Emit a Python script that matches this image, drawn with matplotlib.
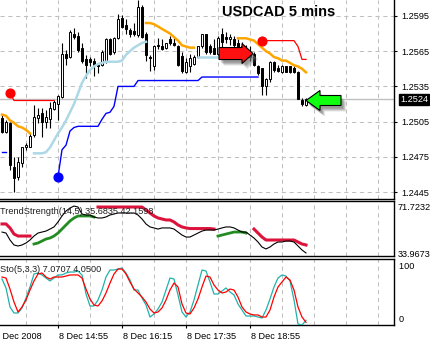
import numpy as np
import matplotlib.pyplot as plt
import matplotlib.transforms as mtransforms
from matplotlib.patches import Polygon

plt.rcParams['font.family'] = ['Liberation Sans', 'DejaVu Sans']

# USDCAD M5 candles, bar 0 = 8 Dec 13:45
opens = [1.2508, 1.2496, 1.2504, 1.2466, 1.2458, 1.2470, 1.2483, 1.2483, 1.2494, 1.2508,
         1.2512, 1.2505, 1.2507, 1.2516, 1.2520, 1.2526, 1.2563, 1.2560, 1.2580, 1.2578,
         1.2568, 1.2558, 1.2558, 1.2557, 1.2553, 1.2553, 1.2556, 1.2575, 1.2564, 1.2576,
         1.2593, 1.2587, 1.2583, 1.2582, 1.2579, 1.2603, 1.2580, 1.2560, 1.2552, 1.2570,
         1.2569, 1.2568, 1.2575, 1.2572, 1.2569, 1.2561, 1.2547, 1.2552, 1.2554, 1.2560,
         1.2569, 1.2580, 1.2569, 1.2568, 1.2563, 1.2580, 1.2577, 1.2575, 1.2575, 1.2572,
         1.2569, 1.2568, 1.2564, 1.2563, 1.2552, 1.2551, 1.2535, 1.2541, 1.2556, 1.2551,
         1.2547, 1.2552, 1.2552, 1.2551, 1.2547, 1.2523, 1.2519]
highs = [1.2511, 1.2506, 1.2505, 1.2475, 1.2475, 1.2483, 1.2487, 1.2495, 1.2519, 1.2517,
         1.2517, 1.2515, 1.2522, 1.2523, 1.2528, 1.2572, 1.2566, 1.2583, 1.2585, 1.2581,
         1.2572, 1.2562, 1.2560, 1.2559, 1.2555, 1.2566, 1.2576, 1.2576, 1.2577, 1.2597,
         1.2596, 1.2592, 1.2585, 1.2589, 1.2609, 1.2604, 1.2581, 1.2562, 1.2570, 1.2576,
         1.2575, 1.2572, 1.2578, 1.2576, 1.2570, 1.2564, 1.2559, 1.2563, 1.2562, 1.2569,
         1.2580, 1.2580, 1.2571, 1.2575, 1.2578, 1.2585, 1.2581, 1.2580, 1.2578, 1.2575,
         1.2573, 1.2570, 1.2569, 1.2564, 1.2553, 1.2551, 1.2542, 1.2557, 1.2557, 1.2553,
         1.2553, 1.2552, 1.2552, 1.2552, 1.2548, 1.2525, 1.2525]
lows = [1.2495, 1.2495, 1.2464, 1.2445, 1.2455, 1.2466, 1.2481, 1.2483, 1.2492, 1.2504,
        1.2492, 1.2500, 1.2500, 1.2515, 1.2506, 1.2525, 1.2553, 1.2559, 1.2575, 1.2564,
        1.2555, 1.2542, 1.2552, 1.2544, 1.2546, 1.2552, 1.2555, 1.2562, 1.2563, 1.2575,
        1.2585, 1.2580, 1.2577, 1.2578, 1.2577, 1.2576, 1.2557, 1.2548, 1.2549, 1.2567,
        1.2566, 1.2567, 1.2570, 1.2569, 1.2552, 1.2546, 1.2546, 1.2547, 1.2553, 1.2559,
        1.2568, 1.2563, 1.2563, 1.2563, 1.2562, 1.2568, 1.2572, 1.2570, 1.2568, 1.2566,
        1.2563, 1.2561, 1.2557, 1.2552, 1.2545, 1.2528, 1.2528, 1.2539, 1.2547, 1.2547,
        1.2546, 1.2547, 1.2546, 1.2546, 1.2524, 1.2518, 1.2518]
closes = [1.2496, 1.2505, 1.2468, 1.2457, 1.2471, 1.2483, 1.2485, 1.2493, 1.2509, 1.2511,
          1.2505, 1.2509, 1.2517, 1.2522, 1.2527, 1.2563, 1.2559, 1.2581, 1.2577, 1.2566,
          1.2557, 1.2553, 1.2556, 1.2553, 1.2552, 1.2564, 1.2575, 1.2563, 1.2576, 1.2592,
          1.2586, 1.2584, 1.2580, 1.2580, 1.2603, 1.2577, 1.2562, 1.2559, 1.2569, 1.2569,
          1.2567, 1.2572, 1.2572, 1.2570, 1.2553, 1.2548, 1.2556, 1.2559, 1.2560, 1.2569,
          1.2580, 1.2564, 1.2564, 1.2563, 1.2576, 1.2573, 1.2575, 1.2577, 1.2570, 1.2568,
          1.2566, 1.2563, 1.2560, 1.2553, 1.2546, 1.2535, 1.2541, 1.2556, 1.2549, 1.2548,
          1.2552, 1.2547, 1.2547, 1.2547, 1.2524, 1.2520, 1.2524]

# overlay lines on the price chart (start bar, values)
orange_a = (0, [1.2511, 1.2510, 1.2506, 1.2504, 1.2501, 1.2500, 1.2498, 1.2495])
orange_b = (36, [1.2589, 1.2589, 1.2588, 1.2586, 1.2584, 1.2582, 1.2580, 1.2577, 1.2574,
                 1.2570, 1.2569, 1.2568, 1.2568])
orange_c = (59, [1.2576, 1.2576, 1.2576, 1.2575, 1.2574, 1.2571, 1.2568, 1.2565, 1.2563,
                 1.2560, 1.2559, 1.2557, 1.2557, 1.2555, 1.2553, 1.2552, 1.2550, 1.2547])
lblue_a = (8, [1.2478, 1.2478, 1.2478, 1.2479, 1.2483, 1.2489, 1.2495, 1.2500, 1.2506,
               1.2513, 1.2520, 1.2529, 1.2538, 1.2544, 1.2549, 1.2552, 1.2554, 1.2555,
               1.2556, 1.2556, 1.2556, 1.2556, 1.2557, 1.2562, 1.2565, 1.2568, 1.2570,
               1.2572, 1.2573])
lblue_b = (49, [1.2560] * 6)
blue_a = (0, [1.2479, 1.2479])
blue_b = (14, [1.2458, 1.2481, 1.2485, 1.2497, 1.2500] + [1.2501] * 6
              + [1.2507, 1.2512, 1.2513, 1.2518] + [1.2535] * 5 + [1.2540] * 16 + [1.2543] * 15)
red_a = (2, [1.2529] + [1.2523] * 11)
red_b = (65, [1.2574] * 9 + [1.2569, 1.2558, 1.2558])
red_dots = ([2, 65], [1.2529, 1.2574])
blue_dots = ([14], [1.2458])
sell_arrow = (62.75, 1.2563)
buy_arrow = (76, 1.2523)

# TrendStrength(14,5)
ts_main = [50.8, 50.0, 44.4, 40.4, 39.6, 40.4, 42.0, 44.4, 47.6, 50.0,
           50.8, 51.6, 53.2, 54.9, 58.9, 63.7, 67.7, 70.1, 71.7, 70.9,
           65.3, 64.5, 64.5, 62.9, 62.1, 62.1, 62.9, 64.5, 65.3, 66.1,
           66.1, 66.1, 66.1, 66.1, 64.5, 61.3, 57.3, 54.9, 54.1, 53.2,
           54.1, 54.1, 54.1, 53.2, 50.8, 48.4, 46.8, 46.8, 48.4, 50.0,
           51.6, 52.4, 52.4, 52.4, 53.2, 54.1, 54.9, 54.9, 54.1, 52.4,
           50.8, 50.8, 48.4, 46.0, 42.8, 38.8, 37.2, 38.8, 41.2, 42.8,
           42.8, 43.6, 43.6, 42.8, 39.6, 36.4, 34.0]
ts_red_a = (0, [57.3, 57.3, 54.1, 49.2, 47.6, 47.6, 47.6, 47.6])
ts_red_b = (24, [70.9] * 12 + [68.5, 66.1, 63.7, 62.1, 61.3, 60.5, 60.5, 58.9, 56.5, 54.9, 54.1]
                + [53.6] * 6 + [53.2])
ts_red_c = (63, [53.2, 50.0, 46.8] + [44.4] * 8 + [42.8, 41.2, 40.4])
ts_green_a = (8, [41.2, 42.0, 43.6, 45.2, 46.0, 47.6, 50.0, 53.2, 56.5, 59.7, 62.1,
                  63.7, 63.7, 63.7, 63.7, 62.9])
ts_green_b = (54, [47.6, 48.4, 49.2, 50.0, 50.8, 50.8, 50.8, 50.0])
ts_last = (35.6835, 42.1598)

# Stochastic(5,3,3)
sto_main = [69.7, 56.1, 27.3, 18.2, 18.2, 25.8, 40.9, 57.6, 77.3, 78.8,
            75.8, 71.2, 66.7, 71.2, 75.8, 75.8, 78.8, 80.3, 80.3, 81.8,
            75.8, 47.0, 28.8, 28.8, 37.9, 53.0, 72.7, 83.3, 83.3, 84.8,
            86.4, 78.8, 68.2, 53.0, 53.0, 40.9, 30.3, 12.1, 16.7, 24.2,
            34.8, 53.0, 71.2, 69.7, 45.5, 19.7, 12.1, 19.7, 37.9, 60.6,
            83.3, 81.8, 65.2, 47.0, 47.0, 51.5, 56.1, 50.0, 45.5, 31.8,
            22.7, 13.6, 13.6, 13.6, 12.1, 10.6, 22.7, 39.4, 57.6, 71.2,
            75.8, 74.2, 66.7, 37.9, 1.5, 0.0, 7.0707]
sto_signal = [72.7, 71.2, 54.5, 34.8, 19.7, 27.3, 37.9, 53.0, 66.7, 77.3,
              78.8, 72.7, 69.7, 72.7, 72.7, 72.7, 74.2, 75.8, 75.8, 75.8,
              71.2, 54.5, 39.4, 30.3, 28.8, 36.4, 48.5, 63.6, 77.3, 84.8,
              84.8, 77.3, 65.2, 54.5, 48.5, 42.4, 34.8, 24.2, 18.2, 19.7,
              25.8, 37.9, 53.0, 63.6, 57.6, 31.8, 18.2, 16.7, 25.8, 39.4,
              57.6, 74.2, 72.7, 60.6, 53.0, 48.5, 50.0, 54.5, 53.0, 42.4,
              27.3, 19.7, 16.7, 15.2, 15.2, 12.1, 12.1, 22.7, 42.4, 57.6,
              65.2, 72.7, 68.2, 53.0, 27.3, 12.1, 4.05]

price_ticks = [1.2595, 1.2565, 1.2535, 1.2505, 1.2475, 1.2445]
time_ticks = [-2, 14, 30, 46, 62]
time_labels = ['8 Dec 2008', '8 Dec 14:55', '8 Dec 16:15', '8 Dec 17:35', '8 Dec 18:55']
ts_labels = [71.7232, 33.9673]

GRID = '#c0c0c0'
FS = 6.6


def seg(s):
    start, vals = s
    return np.arange(start, start + len(vals)), np.array(vals, dtype=float)


fig = plt.figure(figsize=(4.31, 3.44), dpi=100)
W = 394 / 431
ax1 = fig.add_axes([0, 145 / 344, W, 199 / 344])
ax2 = fig.add_axes([0, 88 / 344, W, 55 / 344])
ax3 = fig.add_axes([0, 19 / 344, W, 66 / 344])

for ax in (ax1, ax2, ax3):
    ax.set_xlim(-0.5, 98)
    ax.spines['left'].set_visible(False)
    for s in ('top', 'bottom', 'right'):
        ax.spines[s].set_linewidth(1.0)
        ax.spines[s].set_color('black')
    for g in range(6, 98, 8):
        ax.axvline(g, color=GRID, lw=0.75, ls=(0, (4, 3.5)), zorder=0)
    ax.set_xticks([])
ax1.spines['top'].set_visible(False)

# ---- price chart
ax1.set_ylim(1.24391, 1.26086)
for p in price_ticks:
    ax1.axhline(p, color=GRID, lw=0.75, ls=(0, (4, 3.5)), zorder=0)
ax1.axhline(closes[-1], color='#c0c0c0', lw=1.0, zorder=1)

idx = np.arange(len(opens))
o = np.array(opens); h = np.array(highs); l = np.array(lows); c = np.array(closes)
ax1.vlines(idx, l, h, color='black', lw=0.8, zorder=2)
bull = c >= o
bottoms = np.minimum(o, c)
heights = np.maximum(np.abs(c - o), 0.000015)
ax1.bar(idx, heights, bottom=bottoms, width=0.62,
        color=np.where(bull, 'white', 'black'), edgecolor='black', lw=0.7, zorder=2)

for s in (orange_a, orange_b, orange_c):
    ax1.plot(*seg(s), color='#ffa500', lw=1.8, zorder=3)
for s in (lblue_a, lblue_b):
    ax1.plot(*seg(s), color='#add8e6', lw=1.8, zorder=3)
for s in (blue_a, blue_b):
    ax1.plot(*seg(s), color='#0000ff', lw=1.0, zorder=3)
for s in (red_a, red_b):
    ax1.plot(*seg(s), color='#ff0000', lw=0.9, zorder=3)
ax1.plot(*red_dots, 'o', ms=6.3, color='#ff0000', zorder=4)
ax1.plot(*blue_dots, 'o', ms=6.3, color='#0000ff', zorder=4)


def arrow(ax, anchor, verts, face):
    base = mtransforms.ScaledTranslation(anchor[0], anchor[1], ax.transData)
    for dx, dy, a in ((5, 6, 0.18), (4, 5, 0.25), (3, 4, 0.3), (2, 3, 0.3)):
        tr = mtransforms.Affine2D().scale(1, -1).translate(dx, -dy) + base
        ax.add_patch(Polygon(verts, closed=True, transform=tr, fc='#707070',
                             ec='none', alpha=a, zorder=5, clip_on=False))
    tr = mtransforms.Affine2D().scale(1, -1) + base
    ax.add_patch(Polygon(verts, closed=True, transform=tr, fc=face, ec='black',
                         lw=0.8, zorder=6, clip_on=False))


arrow(ax1, sell_arrow, [(0, 0), (-11, -10), (-11, -6), (-34, -6), (-34, 6), (-11, 6), (-11, 10)],
      '#ff1010')
arrow(ax1, buy_arrow, [(0, 0), (14, -10), (14, -5), (35, -5), (35, 5), (14, 5), (14, 10)],
      '#10ff10')

ax1.text(222 / 394, 1 - 16 / 199, 'USDCAD 5 mins', transform=ax1.transAxes,
         fontsize=10.5, fontweight='bold', ha='left', va='baseline', color='black')

ax1.yaxis.tick_right()
ax1.set_yticks(price_ticks)
ax1.set_yticklabels(['%.4f' % p for p in price_ticks])
ax1.tick_params(axis='y', length=2.5, width=0.8, pad=2.5, labelsize=FS, colors='black')
ax1.annotate('%.4f' % closes[-1], xy=(1, closes[-1]),
             xycoords=('axes fraction', 'data'), xytext=(4.6, 0), textcoords='offset points',
             ha='left', va='center', fontsize=FS, color='white',
             bbox=dict(boxstyle='square,pad=0.12', fc='black', ec='black'))

# ---- TrendStrength panel
ax2.set_ylim(31.56, 75.74)
ax2.plot(idx, ts_main, color='black', lw=0.8, zorder=3)
for s in (ts_red_a, ts_red_b, ts_red_c):
    ax2.plot(*seg(s), color='#dc143c', lw=2.2, zorder=2)
for s in (ts_green_a, ts_green_b):
    ax2.plot(*seg(s), color='#228b22', lw=2.0, zorder=2)
ax2.yaxis.tick_right()
ax2.set_yticks(ts_labels)
ax2.set_yticklabels(['%.4f' % v for v in ts_labels])
ax2.tick_params(axis='y', length=0, pad=2.5, labelsize=FS, colors='black')
ax2.text(0.0, 0.8, 'TrendStrength(14,5) %.4f %.4f' % ts_last,
         transform=ax2.transAxes, fontsize=FS, ha='left', va='center', color='#202020')

# ---- Stochastic panel
ax3.set_ylim(0, 100)
ax3.plot(idx, sto_main, color='#20b2aa', lw=0.9, zorder=3)
ax3.plot(idx, sto_signal, color='#ff0000', lw=0.9, zorder=3)
ax3.set_yticks([])
ax3.text(1.0, 0.879, '  100', transform=ax3.transAxes, fontsize=FS, ha='left', va='center')
ax3.text(1.0, 0.076, '  0', transform=ax3.transAxes, fontsize=FS, ha='left', va='center')
ax3.text(0.0, 0.848, 'Sto(5,3,3) %.4f %.4f' % (sto_main[-1], sto_signal[-1]),
         transform=ax3.transAxes, fontsize=FS, ha='left', va='center', color='#202020')

ax3.set_xticks([t for t in time_ticks if t >= 0])
ax3.tick_params(axis='x', length=2.5, width=0.8, labelbottom=False)
for t, lab in zip(time_ticks, time_labels):
    ax3.annotate(lab, xy=(t, 0), xycoords=('data', 'axes fraction'), xytext=(0.5, -8),
                 textcoords='offset points', ha='left', va='center', fontsize=FS,
                 annotation_clip=False)

fig.savefig('out.png', dpi=100)
